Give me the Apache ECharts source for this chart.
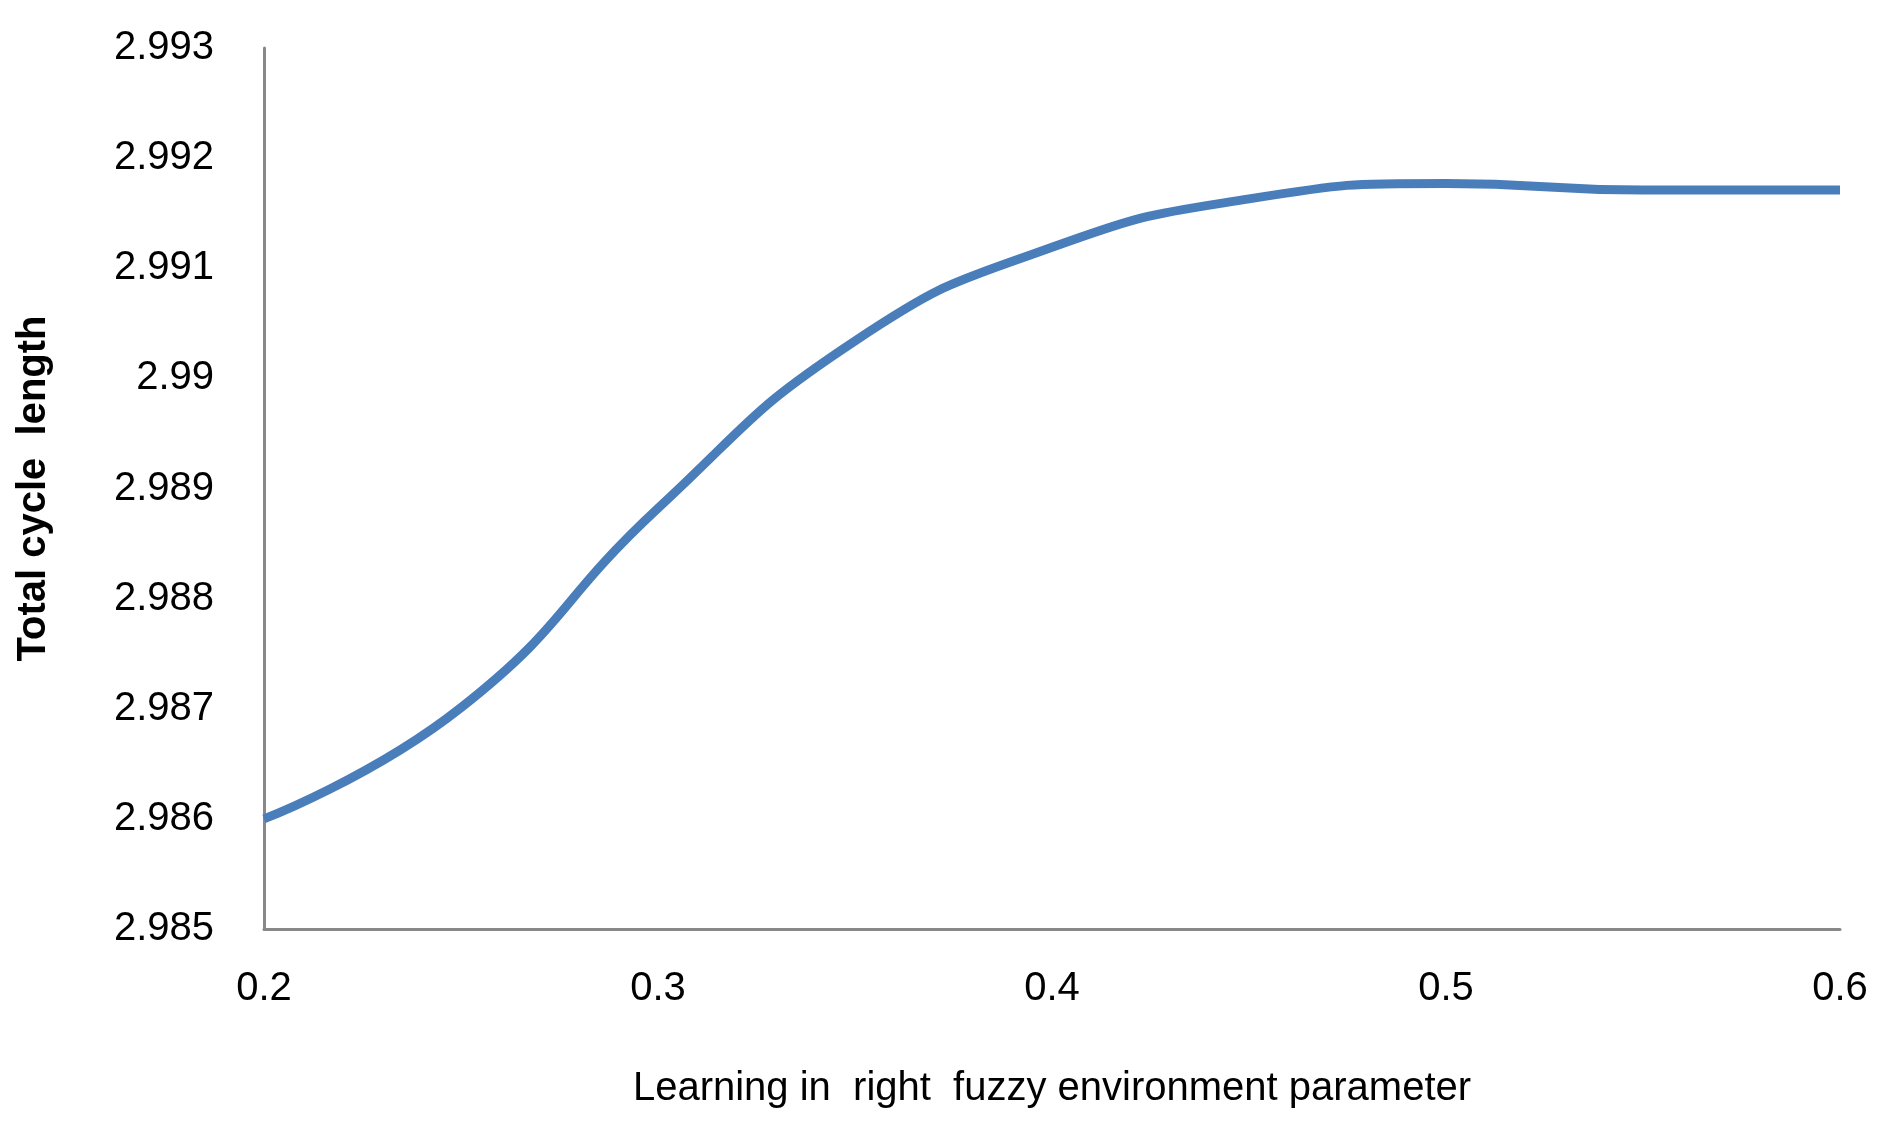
<!DOCTYPE html>
<html>
<head>
<meta charset="utf-8">
<script src="https://cdn.jsdelivr.net/npm/echarts@6/dist/echarts.min.js"></script>
<style>
  html, body { margin: 0; padding: 0; background: #fff; }
  #chart { width: 1886px; height: 1125px; }
</style>
</head>
<body>
<div id="chart"></div>
<script>
// learning parameter values and total cycle length
var xValues = [0.2, 0.25, 0.3, 0.35, 0.4, 0.45, 0.5, 0.55, 0.6];
var cycleLength = [2.9860, 2.98701, 2.98882, 2.99034, 2.99119, 2.99163, 2.99177, 2.99171, 2.99171];

var chart = echarts.init(document.getElementById('chart'));
var font = '"Liberation Sans", "DejaVu Sans", sans-serif';

chart.setOption({
  animation: false,
  grid: { left: 264, right: 46, top: 48, bottom: 196 },
  xAxis: {
    type: 'value',
    min: 0.2, max: 0.6, interval: 0.1,
    name: 'Learning in  right  fuzzy environment parameter',
    nameLocation: 'middle', nameGap: 140,
    nameTextStyle: { fontFamily: font, fontSize: 40, color: '#000' },
    axisLine: { lineStyle: { color: '#888', width: 3 } },
    axisTick: { show: false },
    splitLine: { show: false },
    axisLabel: { fontFamily: font, fontSize: 40, color: '#000', margin: 40,
      formatter: function (v) { return String(+v.toFixed(1)); } }
  },
  yAxis: {
    type: 'value',
    min: 2.985, max: 2.993, interval: 0.001,
    name: 'Total cycle  length',
    nameLocation: 'middle', nameGap: 210,
    nameTextStyle: { fontFamily: font, fontSize: 40, fontWeight: 'bold', color: '#000' },
    axisLine: { show: true, lineStyle: { color: '#888', width: 3 } },
    axisTick: { show: false },
    splitLine: { show: false },
    axisLabel: { fontFamily: font, fontSize: 40, color: '#000', margin: 50,
      formatter: function (v) { return String(+v.toFixed(3)); } }
  },
  series: [{
    type: 'line',
    smooth: true,
    symbol: 'none',
    data: xValues.map(function (x, i) { return [x, cycleLength[i]]; }),
    lineStyle: { color: '#4a7ebb', width: 9 }
  }]
});
</script>
</body>
</html>
